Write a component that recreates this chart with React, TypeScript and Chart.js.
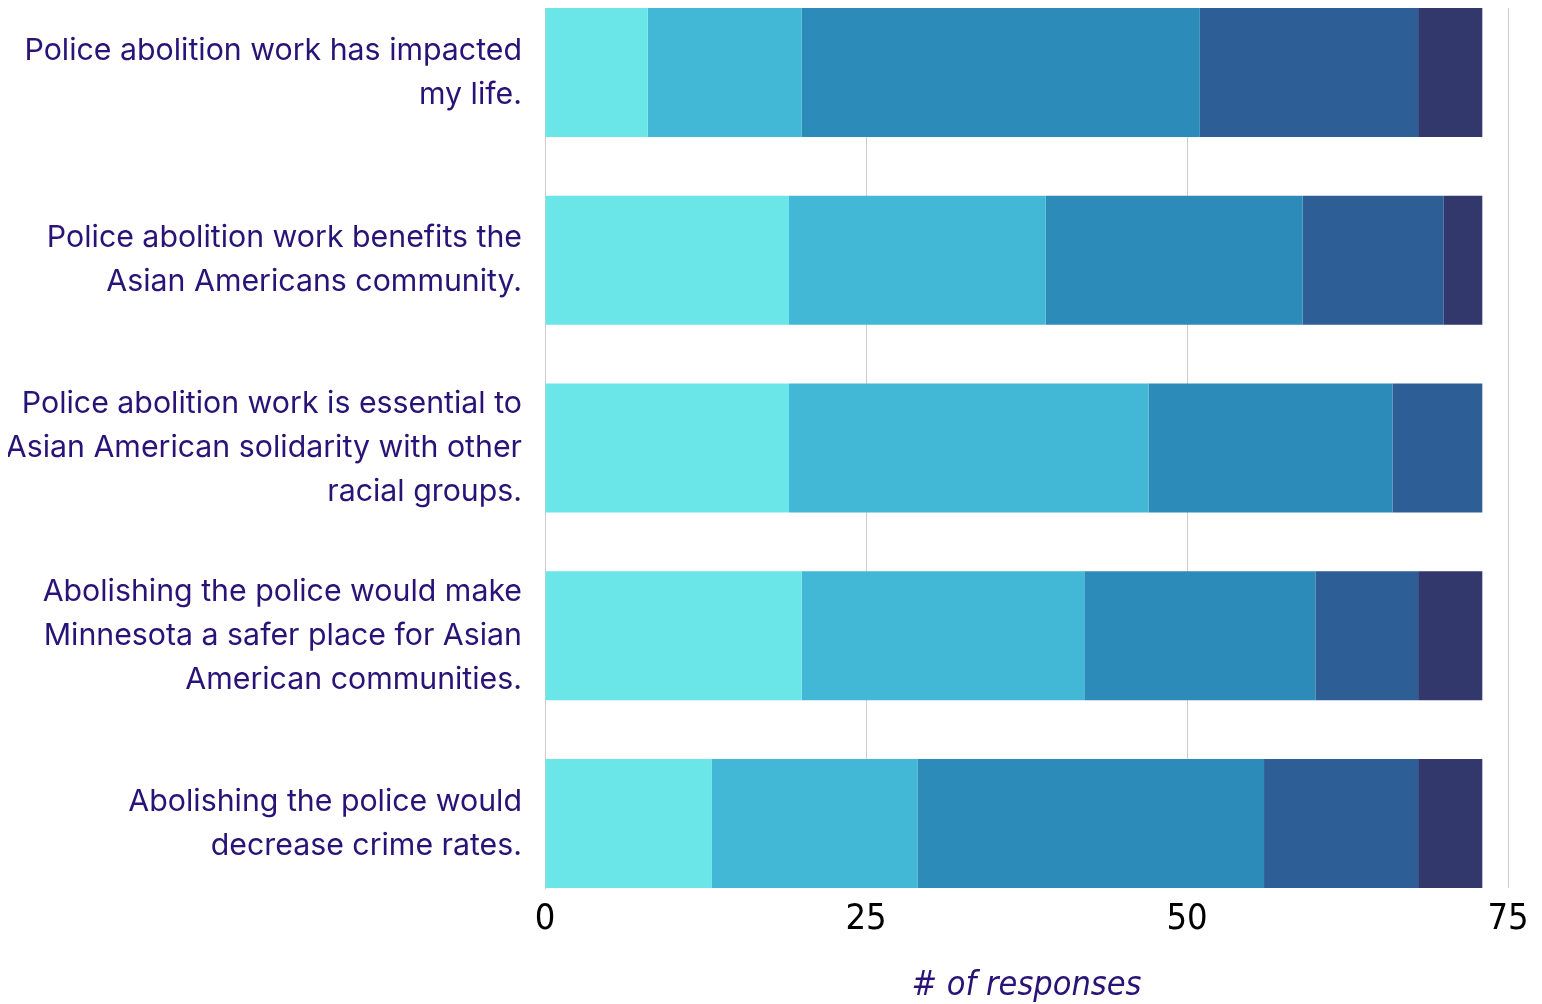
import { useEffect, useRef } from "react";
import { Chart, registerables } from "chart.js";

Chart.register(...registerables);

const categories: string[][] = [
  ["Police abolition work has impacted", "my life."],
  ["Police abolition work benefits the", "Asian Americans community."],
  ["Police abolition work is essential to", "Asian American solidarity with other", "racial groups."],
  ["Abolishing the police would make", "Minnesota a safer place for Asian", "American communities."],
  ["Abolishing the police would", "decrease crime rates."],
];

const seriesNames = ["Response 1", "Response 2", "Response 3", "Response 4", "Response 5"];

const series1 = [8, 19, 19, 20, 13];
const series2 = [12, 20, 28, 22, 16];
const series3 = [31, 20, 19, 18, 27];
const series4 = [17, 11, 7, 8, 12];
const series5 = [5, 3, 0, 5, 5];

const xTickValues = [0, 25, 50, 75];

const colors = ["#6ae5e8", "#43b8d6", "#2d8bb9", "#2e5e96", "#32376c"];

const TEXT_COLOR = "#2a1377";

export default function App() {
  const ref = useRef<HTMLCanvasElement>(null);

  useEffect(() => {
    const series = [series1, series2, series3, series4, series5];
    const chart = new Chart(ref.current!, {
      type: "bar",
      data: {
        datasets: series.map((vals, si) => ({
          label: seriesNames[si],
          data: vals.map((v, i) => ({ x: v, y: i })),
          backgroundColor: colors[si],
          borderWidth: 0,
          barPercentage: 0.687,
          categoryPercentage: 1,
        })),
      },
      options: {
        indexAxis: "y",
        animation: false,
        responsive: true,
        maintainAspectRatio: false,
        layout: { padding: { left: 0, right: 26, top: 0, bottom: 0 } },
        plugins: {
          legend: { display: false },
          tooltip: { enabled: false },
        },
        scales: {
          x: {
            type: "linear",
            stacked: true,
            min: 0,
            max: 75,
            afterBuildTicks: (axis: any) => {
              axis.ticks = xTickValues.map((v) => ({ value: v }));
            },
            ticks: {
              color: "#000000",
              padding: 10,
              font: { family: "'Liberation Sans Narrow', 'DejaVu Sans Condensed', sans-serif", size: 36 },
            },
            grid: { color: "#cccccc", lineWidth: 1, drawTicks: false },
            border: { display: false },
            title: {
              display: true,
              text: "# of responses",
              color: TEXT_COLOR,
              font: {
                family: "'Liberation Sans Narrow', 'DejaVu Sans Condensed', sans-serif",
                size: 34,
                style: "italic",
                lineHeight: 1,
              },
              padding: { top: 0, bottom: 1 },
            },
            afterFit: (axis: any) => {
              axis.height = 116;
              axis.paddingLeft = 0;
              axis.paddingRight = 0;
            },
          },
          y: {
            type: "linear",
            stacked: true,
            reverse: true,
            offset: false,
            min: -0.3435,
            max: 4.3435,
            afterBuildTicks: (axis: any) => {
              axis.ticks = categories.map((_, i) => ({ value: i }));
            },
            ticks: {
              autoSkip: false,
              color: TEXT_COLOR,
              padding: 23,
              font: { family: "Inter, 'Noto Sans', sans-serif", size: 30.3, lineHeight: 44 / 30.3 },
              callback: (value: any) => categories[Number(value)] ?? "",
            },
            grid: { display: false, drawTicks: false, offset: false },
            border: { display: true, color: "#cccccc", width: 1 },
            afterFit: (axis: any) => {
              axis.width = 537;
              axis.paddingTop = 0;
              axis.paddingBottom = 0;
            },
          },
        },
      },
    });
    return () => chart.destroy();
  }, []);

  return (
    <div style={{ position: "relative", width: "100%", height: 996 }}>
      <canvas ref={ref} />
    </div>
  );
}
